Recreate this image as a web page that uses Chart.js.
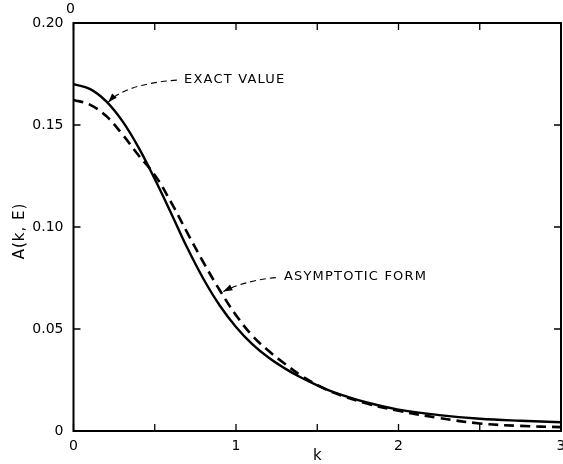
<!DOCTYPE html>
<html>
<head>
<meta charset="utf-8">
<title>A(k, E)</title>
<script src="https://cdn.jsdelivr.net/npm/chart.js@4.4.1/dist/chart.umd.min.js"></script>
<style>
  html, body { margin: 0; padding: 0; background: #fff; }
  #wrap { width: 563px; height: 464px; position: relative; }
</style>
</head>
<body>
<div id="wrap"><canvas id="chart"></canvas></div>
<script>
// values
const kValues = [0, 0.1, 0.2, 0.3, 0.4, 0.5, 0.6, 0.7, 0.8, 0.9, 1.0, 1.1, 1.2, 1.3, 1.4, 1.5, 1.6, 1.8, 2.0, 2.25, 2.5, 2.75, 3.0];
const exactValue = [0.170, 0.1677, 0.1617, 0.1520, 0.1390, 0.1235, 0.1069, 0.0898, 0.0745, 0.0615, 0.0510, 0.0426, 0.0360, 0.0307, 0.0262, 0.0224, 0.0191, 0.0141, 0.0105, 0.0078, 0.0060, 0.0050, 0.0043];
const asymptoticForm = [0.1623, 0.1600, 0.1545, 0.1455, 0.1352, 0.1255, 0.1122, 0.0972, 0.0826, 0.0690, 0.0568, 0.0468, 0.0393, 0.0330, 0.0272, 0.0226, 0.0188, 0.0136, 0.0099, 0.0064, 0.0037, 0.0025, 0.0019];
const xTickLabels = ["0", "1", "2", "3"];
const yTickLabels = ["0", "0.05", "0.10", "0.15", "0.20"];

const FONT = "'DejaVu Sans', sans-serif";

function toPoints(ys) {
  return kValues.map((k, i) => ({ x: k, y: ys[i] }));
}

// frame, inward ticks, axis titles and the two callouts
const framePlugin = {
  id: "frame",
  afterDraw(chart) {
    const ctx = chart.ctx;
    const a = chart.chartArea;
    const xs = chart.scales.x;
    const ys = chart.scales.y;
    ctx.save();
    ctx.strokeStyle = "#000";
    ctx.lineWidth = 2;
    ctx.strokeRect(a.left, a.top, a.right - a.left, a.bottom - a.top);

    ctx.lineWidth = 1.3;
    const tl = 7;
    xs.ticks.forEach(t => {
      const px = xs.getPixelForValue(t.value);
      ctx.beginPath();
      ctx.moveTo(px, a.bottom); ctx.lineTo(px, a.bottom - tl);
      ctx.moveTo(px, a.top); ctx.lineTo(px, a.top + tl);
      ctx.stroke();
    });
    ys.ticks.forEach(t => {
      const py = ys.getPixelForValue(t.value);
      ctx.beginPath();
      ctx.moveTo(a.left, py); ctx.lineTo(a.left + tl, py);
      ctx.moveTo(a.right, py); ctx.lineTo(a.right - tl, py);
      ctx.stroke();
    });

    ctx.fillStyle = "#000";
    ctx.font = "15px " + FONT;
    ctx.textAlign = "center";
    ctx.textBaseline = "middle";
    ctx.fillText("k", (a.left + a.right) / 2, 456);
    ctx.save();
    ctx.translate(20, (a.top + a.bottom) / 2 + 4);
    ctx.rotate(-Math.PI / 2);
    ctx.letterSpacing = "1px";
    ctx.fillText("A(k, E)", 0, 0);
    ctx.restore();

    // stray zero above the corner
    ctx.font = "14px " + FONT;
    ctx.fillText("0", a.left - 3, 9);

    ctx.font = "13px " + FONT;
    ctx.textAlign = "left";
    ctx.letterSpacing = "1.2px";
    ctx.fillText("EXACT VALUE", xs.getPixelForValue(0.68), ys.getPixelForValue(0.172));
    ctx.fillText("ASYMPTOTIC FORM", xs.getPixelForValue(1.295), ys.getPixelForValue(0.0755));
    ctx.letterSpacing = "0px";

    callout(ctx, xs, ys, [0.636, 0.172], [0.317, 0.170], [0.214, 0.1612]);
    callout(ctx, xs, ys, [1.245, 0.0752], [1.06, 0.0738], [0.922, 0.0684]);
    ctx.restore();
  }
};

function callout(ctx, xs, ys, from, ctrl, tip) {
  const p0 = [xs.getPixelForValue(from[0]), ys.getPixelForValue(from[1])];
  const p1 = [xs.getPixelForValue(ctrl[0]), ys.getPixelForValue(ctrl[1])];
  const p2 = [xs.getPixelForValue(tip[0]), ys.getPixelForValue(tip[1])];
  ctx.save();
  ctx.strokeStyle = "#000";
  ctx.lineWidth = 1.1;
  ctx.setLineDash([6, 4]);
  ctx.beginPath();
  ctx.moveTo(p0[0], p0[1]);
  ctx.quadraticCurveTo(p1[0], p1[1], p2[0], p2[1]);
  ctx.stroke();
  ctx.setLineDash([]);
  const ang = Math.atan2(p2[1] - p1[1], p2[0] - p1[0]);
  const len = 9, half = 3.2;
  ctx.beginPath();
  ctx.moveTo(p2[0], p2[1]);
  ctx.lineTo(p2[0] - len * Math.cos(ang) + half * Math.sin(ang), p2[1] - len * Math.sin(ang) - half * Math.cos(ang));
  ctx.lineTo(p2[0] - len * Math.cos(ang) - half * Math.sin(ang), p2[1] - len * Math.sin(ang) + half * Math.cos(ang));
  ctx.closePath();
  ctx.fillStyle = "#000";
  ctx.fill();
  ctx.restore();
}

new Chart(document.getElementById("chart"), {
  type: "scatter",
  data: {
    datasets: [
      {
        label: "Exact value",
        data: toPoints(exactValue),
        showLine: true,
        borderColor: "#000",
        borderWidth: 2.4,
        pointRadius: 0,
        tension: 0.4,
      },
      {
        label: "Asymptotic form",
        data: toPoints(asymptoticForm),
        showLine: true,
        borderColor: "#000",
        borderWidth: 2.6,
        borderDash: [10, 6],
        pointRadius: 0,
        tension: 0.4,
      },
    ],
  },
  options: {
    responsive: true,
    maintainAspectRatio: false,
    animation: false,
    layout: { padding: { top: 23, right: 2, left: 0, bottom: 0 } },
    plugins: { legend: { display: false }, tooltip: { enabled: false } },
    scales: {
      x: {
        type: "linear",
        min: 0,
        max: 3,
        afterFit: s => { s.height = 33; s.paddingLeft = 0; s.paddingRight = 0; },
        ticks: {
          stepSize: 0.5,
          autoSkip: false,
          maxRotation: 0,
          padding: 7,
          color: "#000",
          font: { family: FONT, size: 14 },
          callback: v => Number.isInteger(v) ? xTickLabels[v] : "",
        },
        grid: { display: false, drawTicks: false },
        border: { display: false },
      },
      y: {
        min: 0,
        max: 0.2,
        afterFit: s => { s.width = 73.5; s.paddingTop = 0; s.paddingBottom = 0; },
        ticks: {
          stepSize: 0.05,
          padding: 10,
          color: "#000",
          font: { family: FONT, size: 14 },
          callback: v => yTickLabels[Math.round(v / 0.05)],
        },
        grid: { display: false, drawTicks: false },
        border: { display: false },
      },
    },
  },
  plugins: [framePlugin],
});
</script>
</body>
</html>
